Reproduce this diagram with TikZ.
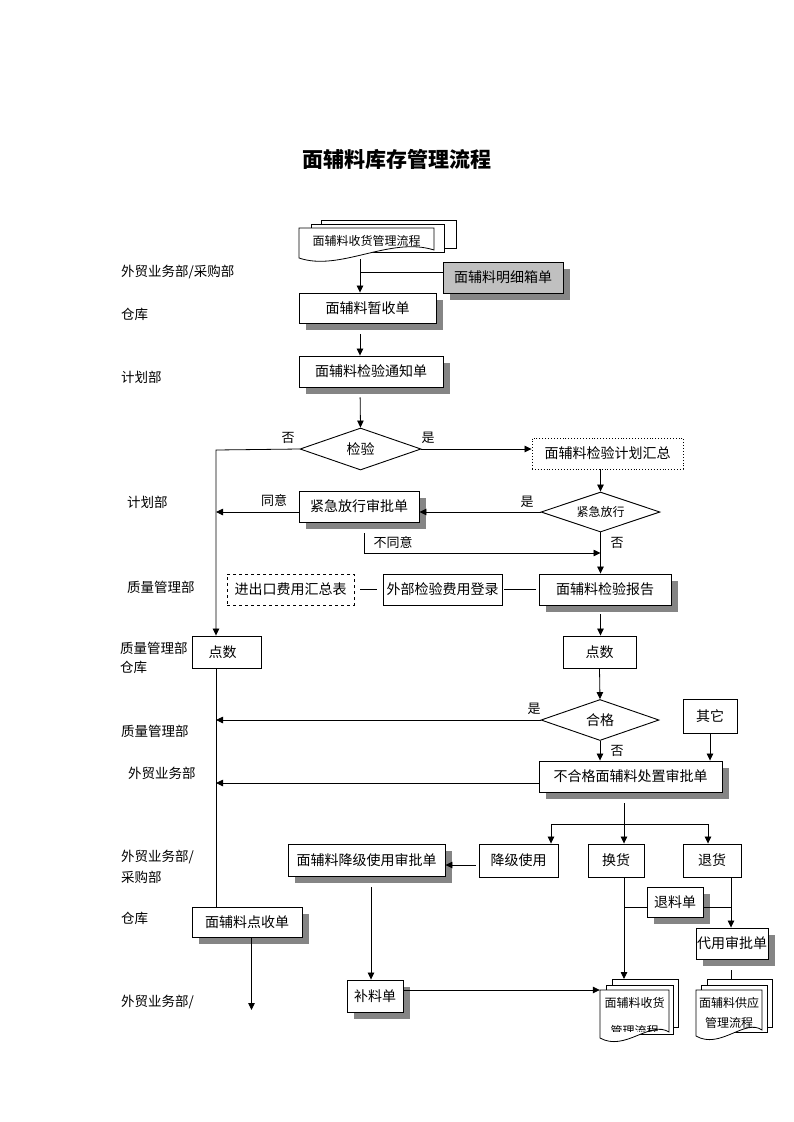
\documentclass[tikz,border=0pt]{standalone}
\usepackage{fontspec}
\setmainfont{Noto Sans CJK SC}
\usetikzlibrary{arrows.meta,shapes.geometric,shadows}
\definecolor{shadegray}{HTML}{858585}
\definecolor{boxgray}{HTML}{C0C0C0}

\begin{document}
\begin{tikzpicture}[x=1pt,y=-1pt,
  every node/.style={inner sep=0pt},
  box/.style={draw,fill=white,line width=0.9pt,font=\fontsize{14}{16}\selectfont},
  sbox/.style={box,drop shadow={shadow xshift=7pt,shadow yshift=-7pt,fill=shadegray,opacity=1}},
  decide/.style={diamond,draw,fill=white,line width=0.9pt,aspect=3,font=\fontsize{14}{16}\selectfont},
  dept/.style={anchor=west,font=\fontsize{13.5}{16}\selectfont},
  tag/.style={font=\fontsize{13}{16}\selectfont},
  page/.style={draw,fill=white,line width=0.8pt},
  line/.style={draw,line width=0.8pt},
  arr/.style={line,-{Triangle[length=7pt,width=6.5pt]}}]
\useasboundingbox (0,0) rectangle (793,1122);

% title
\node[font=\fontsize{21}{24}\selectfont\bfseries] (title) at (397,159) {面辅料库存管理流程};

% departments
\node[dept] (d1) at (121,272) {外贸业务部/采购部};
\node[dept] (d2) at (121,314) {仓库};
\node[dept] (d3) at (121,377) {计划部};
\node[dept] (d4) at (127,502) {计划部};
\node[dept] (d5) at (127,587) {质量管理部};
\node[dept] (d6) at (120,648) {质量管理部};
\node[dept] (d7) at (120,667) {仓库};
\node[dept] (d8) at (121,731) {质量管理部};
\node[dept] (d9) at (128,773) {外贸业务部};
\node[dept] (d10) at (121,857) {外贸业务部/};
\node[dept] (d11) at (121,877) {采购部};
\node[dept] (d12) at (121,918) {仓库};
\node[dept] (d13) at (121,1002) {外贸业务部/};

% receiving flow document (top)
\draw[page] (321,220) rectangle (456,248);
\draw[page] (311,224) rectangle (444,252);
\draw[page] (299,228) -- (434,228) -- (434,250) .. controls (390,236) and (340,272) .. (299,258) -- cycle;
\node[font=\fontsize{12}{14}\selectfont,minimum width=135pt,minimum height=36pt] (recvtop) at (366.5,241) {面辅料收货管理流程};

% boxes
\node[sbox,fill=boxgray,minimum width=120pt,minimum height=31pt] (mingxi) at (503,277.5) {面辅料明细箱单};
\node[sbox,minimum width=137pt,minimum height=30pt] (zsd) at (367.5,308) {面辅料暂收单};
\node[sbox,minimum width=144pt,minimum height=31pt] (tzd) at (371,371.5) {面辅料检验通知单};
\node[decide,minimum width=121pt,minimum height=42pt] (jy) at (360.5,449) {检验};
\node[box,dotted,minimum width=151pt,minimum height=31pt] (hz) at (607.5,453.5) {面辅料检验计划汇总};
\node[decide,font=\fontsize{12}{14}\selectfont,minimum width=119pt,minimum height=40pt] (jjfx) at (600.5,512) {紧急放行};
\node[sbox,minimum width=120pt,minimum height=31pt] (jjsp) at (359,506.5) {紧急放行审批单};
\node[sbox,minimum width=132pt,minimum height=31pt] (bg) at (605,589.5) {面辅料检验报告};
\node[box,minimum width=119pt,minimum height=31pt] (wb) at (442.5,589.5) {外部检验费用登录};
\node[box,dashed,minimum width=127pt,minimum height=31pt] (jck) at (290.5,589.5) {进出口费用汇总表};
\node[box,minimum width=69pt,minimum height=32pt] (dsL) at (226.5,652) {点数\hspace*{8pt}};
\node[box,minimum width=73pt,minimum height=32pt] (dsR) at (599.5,652) {点数};
\node[decide,minimum width=118pt,minimum height=41pt] (hg) at (600,720) {合格};
\node[box,minimum width=54pt,minimum height=34pt] (qt) at (710,716) {其它};
\node[sbox,minimum width=183pt,minimum height=31pt] (bhg) at (630.5,776.5) {不合格面辅料处置审批单};
\node[box,minimum width=79pt,minimum height=33pt] (jjsy) at (518.5,860.5) {降级使用};
\node[box,minimum width=56pt,minimum height=33pt] (hh) at (616,860.5) {换货};
\node[box,minimum width=58pt,minimum height=33pt] (th) at (712,860.5) {退货};
\node[sbox,minimum width=157pt,minimum height=32pt] (jjsp2) at (366.5,860) {面辅料降级使用审批单};
\node[sbox,minimum width=56pt,minimum height=30pt] (tl) at (675,902) {退料单};
\node[sbox,minimum width=72pt,minimum height=31pt] (dysp) at (732,943.5) {代用审批单};
\node[sbox,minimum width=110pt,minimum height=30pt] (dsd) at (247,922) {面辅料点收单};
\node[sbox,minimum width=56pt,minimum height=32pt] (blr) at (375,996) {补料单};

% receiving flow document (bottom)
\draw[page] (612,979) rectangle (678,1027);
\draw[page] (606,985) rectangle (673,1034);
\draw[page] (600,990) -- (669,990) -- (669,1032) .. controls (650,1020) and (625,1052) .. (600,1038) -- cycle;
\begin{scope}
\clip (600,990) rectangle (669,1031);
\node[font=\fontsize{12}{28}\selectfont,align=center,minimum width=69pt] (recvbot) at (634.5,1017) {面辅料收货\\管理流程};
\end{scope}

% supply flow document
\draw[page] (707,979) rectangle (772,1027);
\draw[page] (701,985) rectangle (767,1032);
\draw[page] (696,990) -- (762,990) -- (762,1030) .. controls (745,1018) and (720,1050) .. (696,1036) -- cycle;
\node[font=\fontsize{12}{20}\selectfont,align=center,minimum width=66pt] (supplydoc) at (729,1013) {面辅料供应\\管理流程};

% branch labels
\node[tag] (no1) at (288,438) {否};
\node[tag] (yes1) at (428,438) {是};
\node[tag] (agree) at (274,501) {同意};
\node[tag] (yes2) at (527,502) {是};
\node[tag] (disagree) at (393,543) {不同意};
\node[tag] (no2) at (617,543) {否};
\node[tag] (yes3) at (534,709) {是};
\node[tag] (no3) at (617,751) {否};

% junction points
\coordinate (spine) at (360,0);
\coordinate (mxjoin) at (360,272);
\coordinate (busL) at (216,450);
\coordinate (nojoin) at (364,553);
\coordinate (rejL) at (216,783);
\coordinate (brtop) at (624,824);
\coordinate (brA) at (551,824);
\coordinate (brC) at (708,824);
\coordinate (lvl) at (0,865);
\coordinate (blx) at (371,0);
\coordinate (bly) at (0,990);
\coordinate (tly) at (0,907);
\coordinate (rtx) at (731,0);
\coordinate (recvin) at (624,979);
\coordinate (supplyin) at (731,979);
\coordinate (dsdend) at (251.5,1010);

% connectors
\draw[arr] (spine |- recvtop.south) -- (spine |- zsd.north);
\draw[line] (mxjoin) -- (mxjoin -| mingxi.west);
\draw[arr,shorten <=11pt] (spine |- zsd.south) -- (spine |- tzd.north);
\draw[arr,shorten <=10pt] (spine |- tzd.south) -- (jy.north);
\draw[arr] (jy.west) -- (busL) -- (busL |- dsL.north);
\draw[arr] (jy.east) -- (jy.east -| hz.west);
\draw[arr] (jjfx.north |- hz.south) -- (jjfx.north);
\draw[arr] (jjfx.west) -- (jjfx.west -| jjsp.east);
\draw[arr] (jjfx.west -| jjsp.west) -- (jjfx.west -| busL);
\draw[arr,shorten <=11pt] (nojoin |- jjsp.south) -- (nojoin) -- (nojoin -| jjfx.south);
\draw[arr] (jjfx.south) -- (jjfx.south |- bg.north);
\draw[line,shorten <=6pt,shorten >=6pt] (jck.east) -- (wb.west);
\draw[line,shorten <=2pt,shorten >=3pt] (wb.east) -- (bg.west);
\draw[arr,shorten <=9pt] (jjfx.south |- bg.south) -- (jjfx.south |- dsR.north);
\draw[arr] (dsR.south) -- (hg.north);
\draw[arr] (hg.west) -- (hg.west -| busL);
\draw[arr] (hg.south) -- (hg.south |- bhg.north);
\draw[arr] (qt.south) -- (qt.south |- bhg.north);
\draw[arr] (rejL -| bhg.west) -- (rejL);
\draw[line] (busL |- dsL.south) -- (busL |- dsd.north);
\draw[arr] (dsdend |- dsd.south) -- (dsdend);
\draw[line,shorten <=11pt] (brtop |- bhg.south) -- (brtop);
\draw[line] (brA) -- (brC);
\draw[arr] (brA) -- (brA |- jjsy.north);
\draw[arr] (brtop) -- (brtop |- hh.north);
\draw[arr] (brC) -- (brC |- th.north);
\draw[arr,shorten <=3pt] (lvl -| jjsy.west) -- (lvl -| jjsp2.east);
\draw[arr,shorten <=11pt] (blx |- jjsp2.south) -- (blx |- blr.north);
\draw[arr] (bly -| blr.east) -- (bly -| recvbot.west);
\draw[arr] (brtop |- hh.south) -- (recvin);
\draw[line] (tly -| brtop) -- (tly -| tl.west);
\draw[line] (tly -| tl.east) -- (tly -| rtx);
\draw[arr] (rtx |- th.south) -- (rtx |- dysp.north);
\draw[line,shorten <=11pt] (rtx |- dysp.south) -- (supplyin);
\end{tikzpicture}
\end{document}
